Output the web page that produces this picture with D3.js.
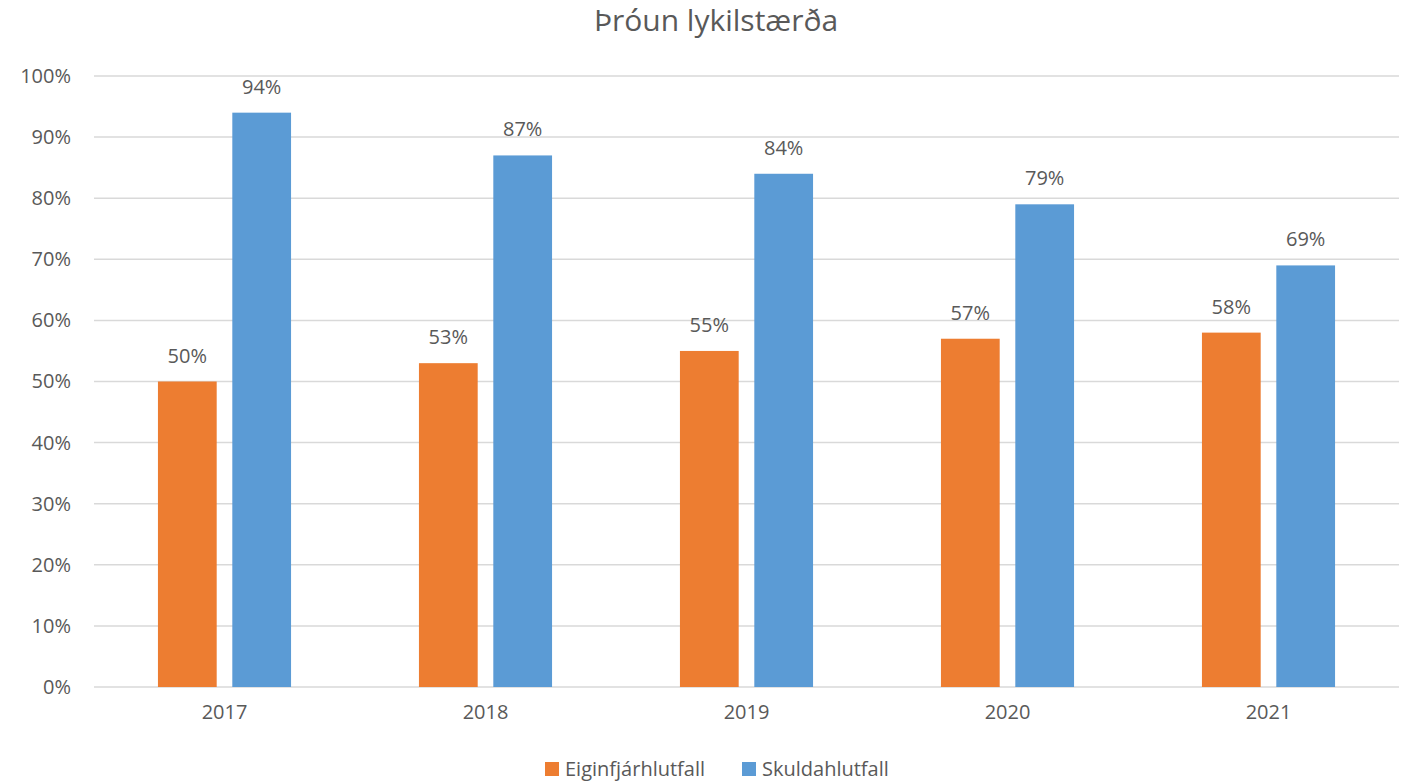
<!DOCTYPE html>
<html>
  <head>
    <meta charset="utf-8">
    <script src="https://d3js.org/d3.v7.min.js"></script>
    <style>
      body { margin: 0; background: #fff; }
      text { font-family: "Open Sans", "Noto Sans", sans-serif; fill: #595959; }
    </style>
  </head>
  <body>
    <div id="chart"></div>
    <script type="text/javascript">
    // data
    var years = ["2017", "2018", "2019", "2020", "2021"];
    var seriesNames = ["Eiginfjárhlutfall", "Skuldahlutfall"];
    var eiginfjar = [0.50, 0.53, 0.55, 0.57, 0.58];
    var skuldir = [0.94, 0.87, 0.84, 0.79, 0.69];
    var yTicks = [0, 0.1, 0.2, 0.3, 0.4, 0.5, 0.6, 0.7, 0.8, 0.9, 1.0];
    var colors = ["#ED7D31", "#5B9BD5"];

    var width = 1404, height = 782;
    var margin = {top: 76, right: 5, bottom: 95, left: 94};

    var svg = d3.select("#chart")
      .append("svg")
      .attr("width", width)
      .attr("height", height);

    // table built from the arrays
    var rows = years.map(function(y, i) {
      return {year: y, values: [eiginfjar[i], skuldir[i]]};
    });

    var x0 = d3.scaleBand()
      .domain(years)
      .range([margin.left, width - margin.right])
      .paddingInner(0);

    var x1 = d3.scaleBand()
      .domain(seriesNames)
      .range([0, x0.bandwidth()])
      .paddingInner(0.21)
      .paddingOuter(0.86);

    var y = d3.scaleLinear()
      .domain([0, 1])
      .range([height - margin.bottom, margin.top]);

    // gridlines
    svg.append("g")
      .selectAll("line")
      .data(yTicks)
      .enter().append("line")
      .attr("x1", margin.left)
      .attr("x2", width - margin.right)
      .attr("y1", function(d) { return y(d); })
      .attr("y2", function(d) { return y(d); })
      .attr("stroke", "#d9d9d9")
      .attr("stroke-width", 1.5);

    // y axis labels
    var yAxis = d3.axisLeft(y)
      .tickValues(yTicks)
      .tickFormat(d3.format(".0%"))
      .tickSize(0)
      .tickPadding(23);
    var ya = svg.append("g")
      .attr("transform", "translate(" + margin.left + ",0)")
      .call(yAxis);
    ya.select(".domain").remove();
    ya.selectAll("text")
      .style("font-size", "20px")
      .attr("fill", "#595959");

    // x axis labels
    var xAxis = d3.axisBottom(x0).tickSize(0).tickPadding(18);
    var xa = svg.append("g")
      .attr("transform", "translate(0," + y(0) + ")")
      .call(xAxis);
    xa.select(".domain").remove();
    xa.selectAll("text")
      .style("font-size", "20px")
      .attr("fill", "#595959");

    // bars
    var groups = svg.append("g")
      .selectAll("g")
      .data(rows)
      .enter().append("g")
      .attr("transform", function(d) { return "translate(" + x0(d.year) + ",0)"; });

    groups.selectAll("rect")
      .data(function(d) { return d.values.map(function(v, i) { return {key: seriesNames[i], value: v, i: i}; }); })
      .enter().append("rect")
      .attr("x", function(d) { return x1(d.key); })
      .attr("width", x1.bandwidth())
      .attr("y", function(d) { return y(d.value); })
      .attr("height", function(d) { return y(0) - y(d.value); })
      .attr("fill", function(d) { return colors[d.i]; });

    //data labels
    groups.selectAll("text.lbl")
      .data(function(d) { return d.values.map(function(v, i) { return {key: seriesNames[i], value: v}; }); })
      .enter().append("text")
      .attr("class", "lbl")
      .attr("x", function(d) { return x1(d.key) + x1.bandwidth() / 2; })
      .attr("y", function(d) { return y(d.value) - 19; })
      .attr("text-anchor", "middle")
      .style("font-size", "20px")
      .text(function(d) { return d3.format(".0%")(d.value); });

    // title
    svg.append("text")
      .attr("x", 716)
      .attr("y", 31)
      .attr("text-anchor", "middle")
      .style("font-size", "30px")
      .text("Þróun lykilstærða");

    // legend
    var legendX = [545, 742];
    var legend = svg.append("g")
      .selectAll("g")
      .data(seriesNames)
      .enter().append("g")
      .attr("transform", function(d, i) { return "translate(" + legendX[i] + ",762)"; });
    legend.append("rect")
      .attr("width", 14)
      .attr("height", 14)
      .attr("fill", function(d, i) { return colors[i]; });
    legend.append("text")
      .attr("x", 20)
      .attr("y", 14)
      .style("font-size", "20px")
      .text(function(d) { return d; });
    </script>
  </body>
</html>
